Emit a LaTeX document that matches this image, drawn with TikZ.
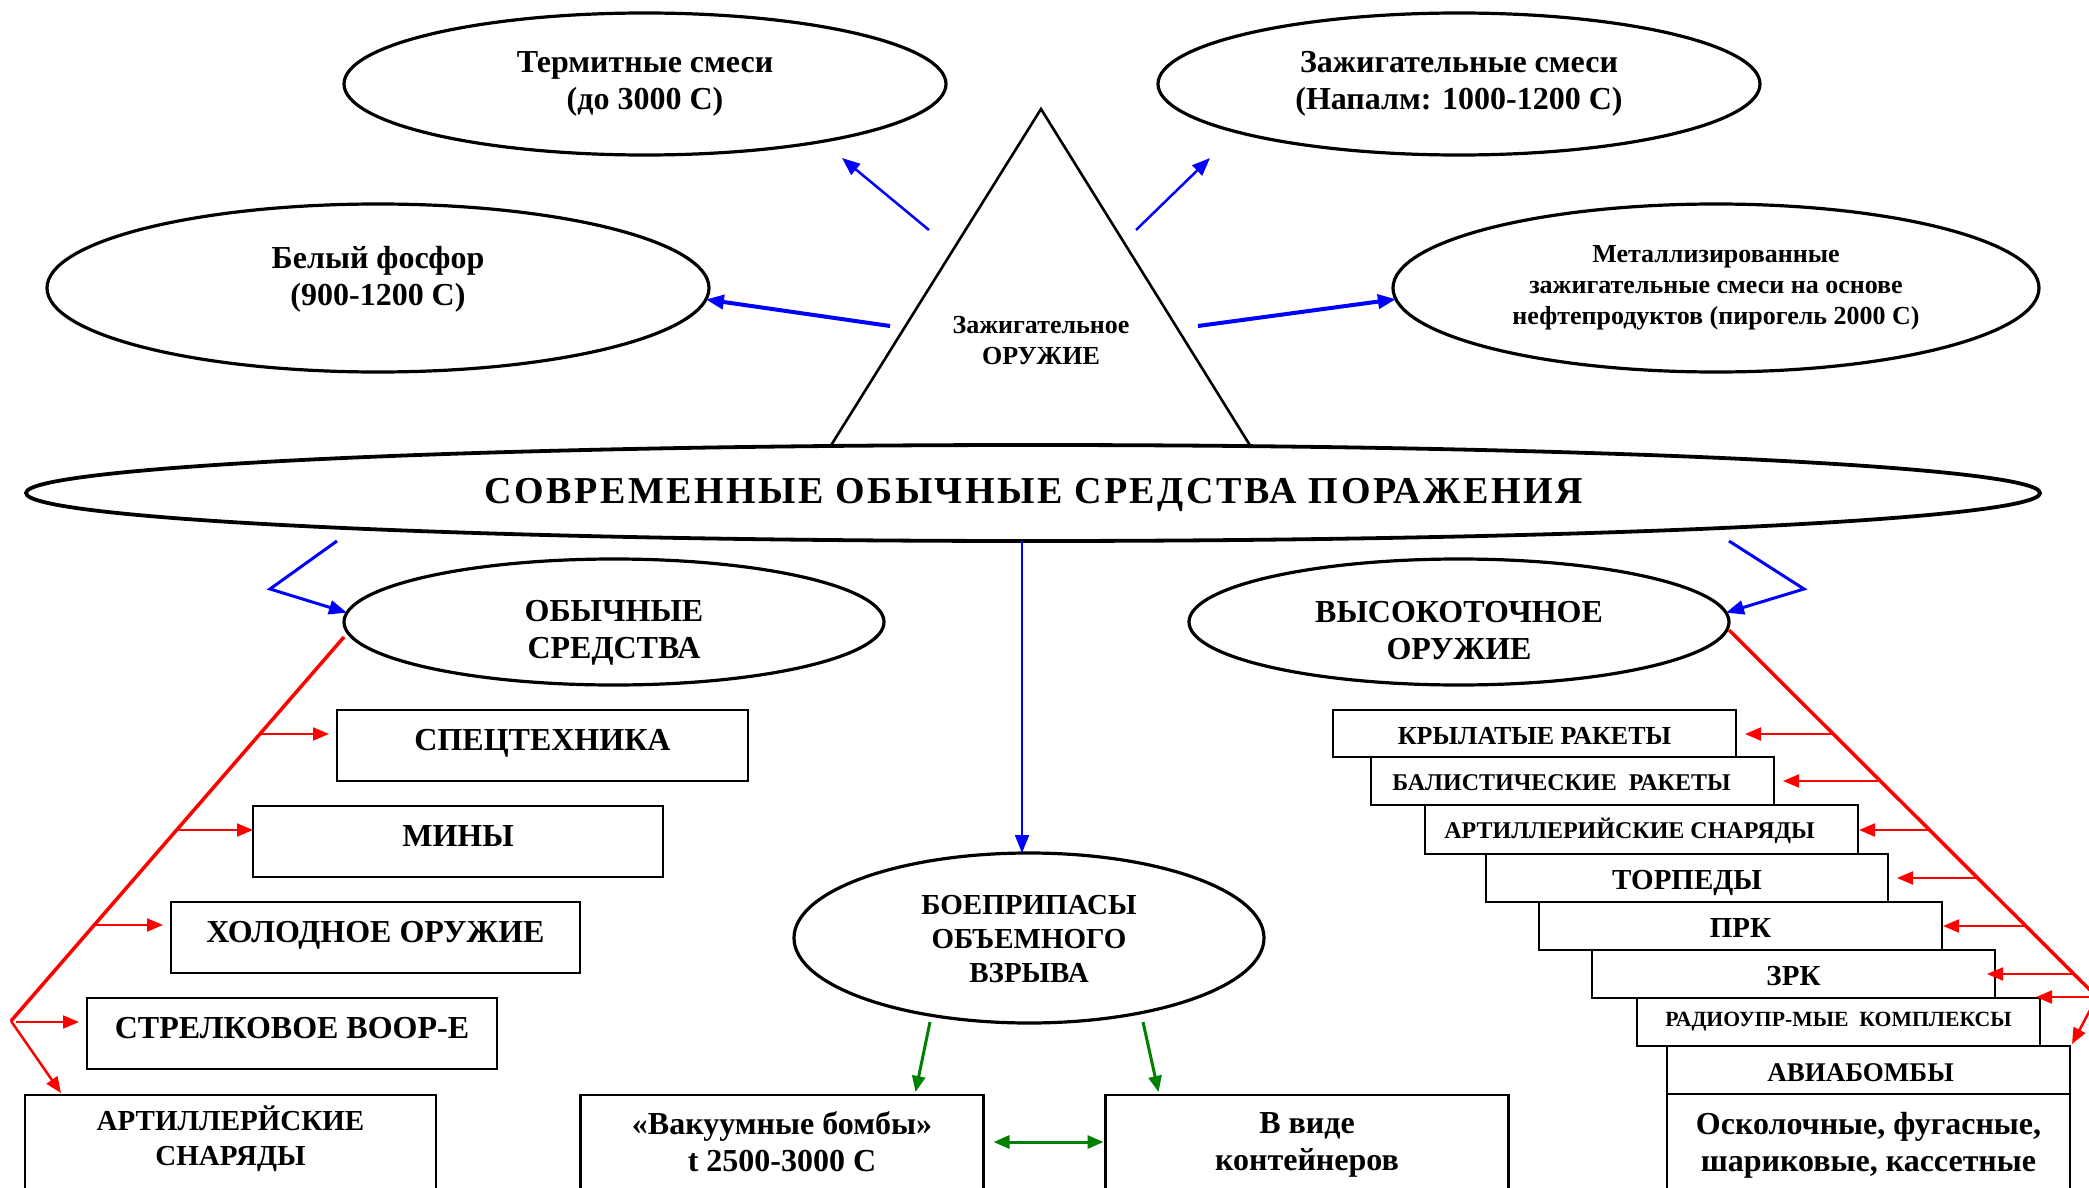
\documentclass[tikz,border=0pt]{standalone}
\usepackage{fontspec}
\setmainfont{Liberation Serif}
\usetikzlibrary{shapes.geometric,arrows.meta,calc}
\definecolor{grn}{RGB}{0,128,0}
\newcommand\fsz[2]{\fontsize{#1}{#2}\selectfont\bfseries}
\begin{document}
\begin{tikzpicture}[x=1pt,y=-1pt,
  >={Triangle[length=16pt,width=13pt]},
  ell/.style={draw, ellipse, line width=3.2pt, inner sep=0pt, outer sep=0pt, fill=white},
  box/.style={draw, line width=2.2pt, inner sep=0pt, outer sep=0pt, align=center, text depth=0pt},
  txt/.style={inner sep=0pt, outer sep=0pt, align=center},
  bl/.style={draw=blue, line width=2.5pt, -{Triangle[length=18pt,width=14pt]}},
  rd/.style={draw=red, line width=2pt, ->},
  rdl/.style={draw=red, line width=3.5pt},
  gr/.style={draw=grn, line width=3pt, ->},
]
\useasboundingbox (0,0) rectangle (2089,1188);
\clip (0,0) rectangle (2089,1188);

% triangle
\coordinate (tA) at (1041,109);
\coordinate (tB) at (825,455);
\coordinate (tC) at (1256,455);
\draw[line width=2.6pt, line join=miter] (tB) -- (tA) -- (tC);
\node[txt, font=\fsz{26}{31}] (tri) at (1041,341) {Зажигательное\\ОРУЖИЕ};

% big ellipse
\node[ell, line width=3.8pt, minimum width=2014, minimum height=96] (big) at (1033,493) {};
\node[txt, font={\fsz{38}{40}\addfontfeature{LetterSpace=6.5}}] (bigt) at (1034,495) {СОВРЕМЕННЫЕ ОБЫЧНЫЕ СРЕДСТВА ПОРАЖЕНИЯ};

% upper ellipses
\node[ell, minimum width=602, minimum height=142] (term) at (645,84) {};
\node[txt, font=\fsz{32}{37}] (termt) at (645,84) {Термитные смеси\\(до 3000 С)};
\node[ell, minimum width=602, minimum height=142] (zsm) at (1459,84) {};
\node[txt, font=\fsz{32}{37}] (zsmt) at (1459,84) {Зажигательные смеси\\(Напалм: 1000-1200 С)};
\node[ell, minimum width=662, minimum height=168] (bf) at (378,288) {};
\node[txt, font=\fsz{32}{37}] (bft) at (378,279) {Белый фосфор\\(900-1200 С)};
\node[ell, minimum width=646, minimum height=168] (met) at (1716,288) {};
\node[txt, font=\fsz{26}{31}] (mett) at (1716,288) {Металлизированные\\зажигательные смеси на основе\\нефтепродуктов (пирогель 2000 С)};

% blue arrows from triangle
\coordinate (b1s) at (929,230); \coordinate (b1e) at (842,158);
\coordinate (b2s) at (1136,230); \coordinate (b2e) at (1210,158);
\coordinate (b3s) at (890,326);
\coordinate (b4s) at (1198,326);
\draw[bl] (b1s) -- (b1e);
\draw[bl] (b2s) -- (b2e);
\draw[bl, line width=4pt] (b3s) -- (bf.-2);
\draw[bl, line width=4pt] (b4s) -- (met.182);

% second level ellipses
\node[ell, minimum width=540, minimum height=126] (ob) at (614,622) {};
\node[txt, font=\fsz{32}{37}] (obt) at (614,633) {ОБЫЧНЫЕ\\СРЕДСТВА};
\node[ell, minimum width=540, minimum height=126] (vt) at (1459,622) {};
\node[txt, font=\fsz{32}{37}] (vtt) at (1459,631) {ВЫСОКОТОЧНОЕ\\ОРУЖИЕ};
\node[ell, minimum width=470, minimum height=170] (boe) at (1029,938) {};
\node[txt, font=\fsz{29}{34}] (boet) at (1029,939) {БОЕПРИПАСЫ\\ОБЪЕМНОГО\\ВЗРЫВА};

% blue connectors from big ellipse
\coordinate (lc1) at (337,541); \coordinate (lc2) at (270,589);
\coordinate (rc1) at (1729,541); \coordinate (rc2) at (1804,589);
\coordinate (cv) at (1022,541);
\draw[bl, line width=3pt] (lc1) -- (lc2) -- (ob.178);
\draw[bl, line width=3pt] (rc1) -- (rc2) -- (vt.2);
\draw[bl, line width=2.2pt] (cv) -- (cv |- boe.north);

% left boxes
\begin{scope}[every node/.append style={text height=9pt}]
\node[box, minimum width=411, minimum height=71, font=\fsz{32}{37}] (sp) at (542.5,745.5) {СПЕЦТЕХНИКА};
\node[box, minimum width=410, minimum height=71, font=\fsz{32}{37}] (mn) at (458,841.5) {МИНЫ};
\node[box, minimum width=409, minimum height=71, font=\fsz{32}{37}] (hol) at (375.5,937.5) {ХОЛОДНОЕ ОРУЖИЕ};
\node[box, minimum width=410, minimum height=71, font=\fsz{32}{37}] (str) at (292,1033.5) {СТРЕЛКОВОЕ ВООР-Е};
\end{scope}
\node[box, minimum width=411, minimum height=200, anchor=north] (artl) at (230.5,1095) {};
\node[txt, font=\fsz{29}{35}] (artlt) at (230.5,1139) {АРТИЛЛЕРЙСКИЕ\\СНАРЯДЫ};

% bottom boxes
\node[box, minimum width=403, minimum height=200, anchor=north] (vak) at (782,1095) {};
\node[txt, font=\fsz{32}{37}] (vakt) at (782,1142) {«Вакуумные бомбы»\\t 2500-3000 С};
\node[box, minimum width=403, minimum height=200, anchor=north] (kont) at (1307,1095) {};
\node[txt, font=\fsz{32}{37}] (kontt) at (1307,1145) {В виде\\контейнеров};

% right boxes
\node[box, line width=2.4pt, minimum width=403, minimum height=47, text height=22pt, font=\fsz{26}{30}] (kr) at (1534.5,733.5) {КРЫЛАТЫЕ РАКЕТЫ};
\node[box, line width=2.4pt, minimum width=403, minimum height=48, text height=19pt, font=\fsz{24}{28}] (bal) at (1572.5,781) {\hspace*{-22pt}БАЛИСТИЧЕСКИЕ\ \ РАКЕТЫ};
\node[box, line width=2.4pt, minimum width=433, minimum height=49, text height=18pt, font=\fsz{24}{28}] (art) at (1641.5,829.5) {\hspace*{-24pt}АРТИЛЛЕРИЙСКИЕ СНАРЯДЫ};
\node[box, line width=2.4pt, minimum width=402, minimum height=48, text height=23.6pt, font=\fsz{29}{34}] (tor) at (1687,878) {ТОРПЕДЫ};
\node[box, line width=2.4pt, minimum width=403, minimum height=48, text height=23pt, font=\fsz{29}{34}] (prk) at (1740.5,926) {ПРК};
\node[box, line width=2.4pt, minimum width=403, minimum height=48, text height=23pt, font=\fsz{29}{34}] (zrk) at (1793.5,974) {ЗРК};
\node[box, line width=2.4pt, minimum width=403, minimum height=48, text height=9.4pt, font=\fsz{21.7}{26}] (rad) at (1838.5,1022) {РАДИОУПР-МЫЕ\ \ КОМПЛЕКСЫ};
\node[box, line width=2.4pt, minimum width=403, minimum height=48, text height=22pt, font=\fsz{27}{33}] (avi) at (1868.5,1070) {\hspace*{-16pt}АВИАБОМБЫ};
\node[box, line width=2.4pt, minimum width=403, minimum height=200, anchor=north] (osk) at (1868.5,1094) {};
\node[txt, font=\fsz{32}{37}] (oskt) at (1868.5,1145) {Осколочные, фугасные,\\шариковые, кассетные};

% left red tree
\coordinate (ls) at ($(ob.west)+(0,15)$);
\coordinate (lv) at (11,1021);
\draw[rdl] (ls) -- (lv);
\coordinate (lb1) at ($(ls)!0.2526!(lv)$);
\coordinate (lb2) at ($(ls)!0.5026!(lv)$);
\coordinate (lb3) at ($(ls)!0.75!(lv)$);
\coordinate (lb4) at ($(lv)+(5,1)$);
\draw[rd, shorten >=8pt] (lb1) -- (lb1 -| sp.west);
\draw[rd, shorten >=0pt] (lb2) -- (lb2 -| mn.west);
\draw[rd, shorten >=8pt] (lb3) -- (lb3 -| hol.west);
\draw[rd, shorten >=8pt] (lb4) -- (lb4 -| str.west);
\draw[rd, line width=2.5pt] (lv) -- ($(artl.north west)+(36,-2)$);

% right red tree
\coordinate (rs) at ($(vt.east)+(0,8)$);
\coordinate (rv) at (2097,997);
\draw[rdl] (rs) -- (rv);
\coordinate (rb1) at ($(rs)!0.2834!(rv)$);
\coordinate (rb2) at ($(rs)!0.4114!(rv)$);
\coordinate (rb3) at ($(rs)!0.545!(rv)$);
\coordinate (rb4) at ($(rs)!0.6757!(rv)$);
\coordinate (rb5) at ($(rs)!0.8065!(rv)$);
\coordinate (rb6) at ($(rs)!0.9373!(rv)$);
\draw[rd, shorten >=9pt] (rb1) -- (rb1 -| kr.east);
\draw[rd, shorten >=9pt] (rb2) -- (rb2 -| bal.east);
\draw[rd, shorten >=1pt] (rb3) -- (rb3 -| art.east);
\draw[rd, shorten >=9pt] (rb4) -- (rb4 -| tor.east);
\draw[rd, shorten >=1pt] (rb5) -- (rb5 -| prk.east);
\draw[rd, shorten >=-8pt] (rb6) -- (rb6 -| zrk.east);
\draw[rd, shorten >=-4pt] (rv) -- (rv -| rad.east);
\draw[rd, line width=2.5pt] (rv) -- ($(avi.north east)+(2,-2)$);

% green arrows
\coordinate (g1s) at (930,1022);
\coordinate (g2s) at (1143,1022);
\draw[gr] (g1s) -- ($(vak.north west)+(335,-3)$);
\draw[gr] (g2s) -- ($(kont.north west)+(53,-3)$);
\draw[gr, <->] ($(vak.north east)+(10,47)$) -- ($(kont.north west)+(-2,47)$);
\end{tikzpicture}
\end{document}
